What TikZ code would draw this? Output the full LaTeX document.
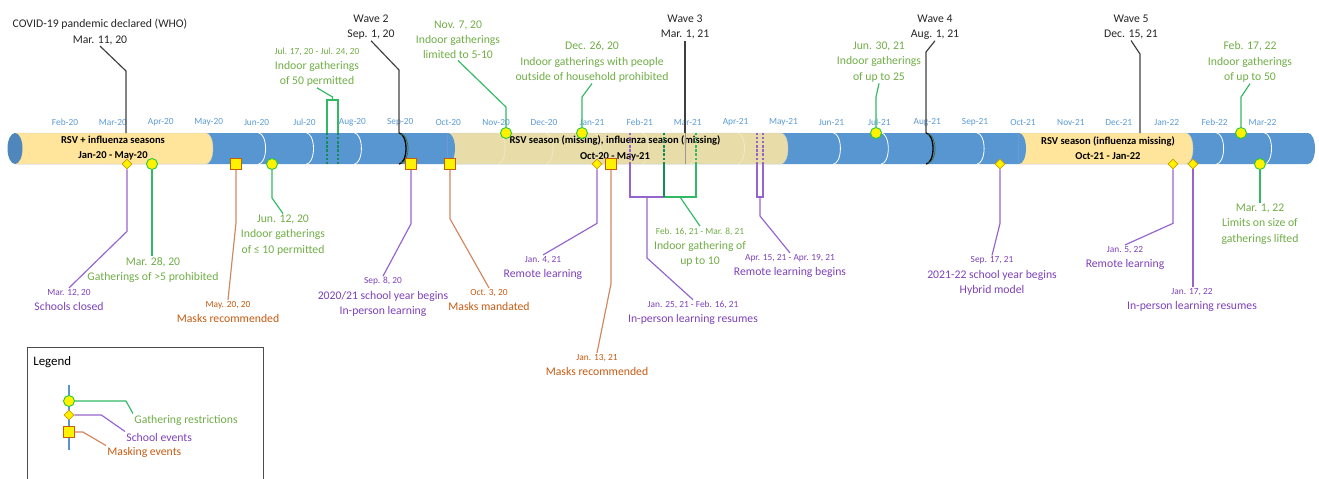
\documentclass[tikz,border=0pt]{standalone}
\usepackage{fontspec}
\setmainfont{Carlito}
\usepackage{tikz}
\usetikzlibrary{positioning, shapes.geometric, calc}

\definecolor{tubeblue}{RGB}{88,150,210}
\definecolor{monthblue}{RGB}{91,155,213}
\definecolor{seasonyel}{RGB}{255,228,155}
\definecolor{seasonbeige}{RGB}{232,220,168}
\definecolor{gathline}{RGB}{50,185,100}
\definecolor{gathdark}{RGB}{20,140,90}
\definecolor{gathtext}{RGB}{112,173,71}
\definecolor{gathmark}{RGB}{40,200,60}
\definecolor{schoolline}{RGB}{150,100,205}
\definecolor{schooltext}{RGB}{125,65,185}
\definecolor{schoolmark}{RGB}{200,160,0}
\definecolor{maskline}{RGB}{210,135,95}
\definecolor{masktext}{RGB}{197,90,17}
\definecolor{maskmark}{RGB}{197,90,17}
\definecolor{wavegreen}{RGB}{60,110,50}

\begin{document}
\begin{tikzpicture}[
		x=0.03cm, y=-0.03cm,
		month/.style={text=monthblue, font=\fontsize{8}{10}\selectfont, inner sep=1pt},
		gtxt/.style={text=gathtext, align=center, font=\fontsize{10}{13}\selectfont, inner sep=1pt},
		stxt/.style={text=schooltext, align=center, font=\fontsize{10}{13}\selectfont, inner sep=1pt},
		mtxt/.style={text=masktext, align=center, font=\fontsize{10}{13}\selectfont, inner sep=1pt},
		wtxt/.style={text=black!85, align=center, font=\fontsize{10}{13}\selectfont, inner sep=1pt},
		season/.style={align=center, font=\fontsize{9}{13}\selectfont\bfseries, inner sep=1pt},
		gmark/.style={circle, draw=gathmark, line width=0.8pt, fill=yellow, inner sep=0pt, minimum size=0.33cm},
		smark/.style={diamond, draw=schoolmark, line width=0.6pt, fill=yellow, inner sep=0pt, minimum size=0.3cm},
		mmark/.style={rectangle, draw=maskmark, line width=0.8pt, fill=yellow, inner sep=0pt, minimum size=0.32cm},
		gcon/.style={draw=gathline, line width=1pt},
		scon/.style={draw=schoolline, line width=1pt},
		mcon/.style={draw=maskline, line width=1pt},
		wcon/.style={draw=black!75, line width=1pt},
		inside/.style={dash pattern=on 2pt off 1.5pt},
		rim/.style={white, line width=0.7pt},
		bulge/.style={start angle=-90, end angle=90, x radius=7, y radius=15.5}
		]

		\useasboundingbox (0,0) rectangle (1319,479);

		\fill[tubeblue] (15,133) -- (1308,133) arc[bulge] -- (15,164) -- cycle;
		\filldraw[fill=seasonyel, draw=black!20, line width=0.4pt] (15,133) -- (206,133) arc[bulge] -- (15,164) -- cycle;
		\filldraw[fill=seasonbeige, draw=black!20, line width=0.4pt] (448,133) -- (781,133) arc[bulge] -- (448,164) -- cycle;
		\filldraw[fill=seasonyel, draw=black!20, line width=0.4pt] (1019,133) -- (1186,133) arc[bulge] -- (1019,164) -- cycle;
		\fill[tubeblue] (448,133) arc[bulge] -- cycle;
		\fill[tubeblue] (1019,133) arc[bulge] -- cycle;
		\fill[tubeblue!90!black] (15,148.5) ellipse[x radius=7.5, y radius=15.5];

		\foreach \k in {4,5,6,16,17,19,24,25}
			\draw[rim] ({67+47.9*\k},133) arc[bulge];
		\foreach \k in {9,...,14}
			\draw[rim, opacity=0.35] ({67+47.9*\k},133) arc[bulge];

		\foreach \mname [count=\k from 0] in {Feb-20,Mar-20,Apr-20,May-20,Jun-20,Jul-20,Aug-20,Sep-20,Oct-20,Nov-20,Dec-20,Jan-21,Feb-21,Mar-21,Apr-21,May-21,Jun-21,Jul-21,Aug-21,Sep-21,Oct-21,Nov-21,Dec-21,Jan-22,Feb-22,Mar-22}
			\node[month] (mo\k) at ({65+47.9*\k},122) {\mname};

		\node[season] (sea-1) at (113,148.5) {RSV + influenza seasons\\Jan-20 - May-20};
		\node[season] (sea-2) at (615,148.5) {RSV season (missing), influenza season (missing)\\Oct-20 - May-21};
		\node[season] (sea-3) at (1108,148.5) {RSV season (influenza missing)\\Oct-21 - Jan-22};

		\coordinate (w-covid) at (126,133);
		\coordinate (w-2) at (399,133);
		\coordinate (w-3) at (685,133);
		\coordinate (w-4) at (926,133);
		\coordinate (w-5) at (1140,133);
		\coordinate (upbar) at (0,100);
		\coordinate (lowbar) at (0,197);
		\coordinate (g-jul17) at (327,133);
		\coordinate (g-jul24) at (338,133);
		\coordinate (s-jan25) at (630,164);
		\coordinate (g-feb16) at (664,164);
		\coordinate (g-mar8) at (696,164);
		\coordinate (s-apr15) at (757,164);
		\coordinate (s-apr19) at (763,164);

		\draw[black, line width=1.1pt] (w-2) arc[bulge];
		\draw[wavegreen, line width=0.6pt] ($(w-2)+(2,1)$) arc[start angle=-90, end angle=90, x radius=7, y radius=14.5];
		\draw[black, line width=1.1pt] (w-4) arc[bulge];
		\draw[wavegreen, line width=0.6pt] ($(w-4)+(2,1)$) arc[start angle=-90, end angle=90, x radius=7, y radius=14.5];
		\draw[black!40, line width=0.6pt] (w-3) -- ++(0,31);

		\node[wtxt] (l-covid) at (100,32) {COVID-19 pandemic declared (WHO)\\Mar. 11, 20};
		\node[wtxt] (l-w2) at (371,27) {Wave 2\\Sep. 1, 20};
		\node[wtxt] (l-w3) at (685,27) {Wave 3\\Mar. 1, 21};
		\node[wtxt] (l-w4) at (935,27) {Wave 4\\Aug. 1, 21};
		\node[wtxt] (l-w5) at (1131,27) {Wave 5\\Dec. 15, 21};

		\node[gtxt] (l-jul) at (317,67) {{\footnotesize Jul. 17, 20 - Jul. 24, 20}\\Indoor gatherings\\of 50 permitted};
		\node[gtxt] (l-nov7) at (458,40) {Nov. 7, 20\\Indoor gatherings\\limited to 5-10};
		\node[gtxt] (l-dec26) at (592,62) {Dec. 26, 20\\Indoor gatherings with people\\outside of household prohibited};
		\node[gtxt] (l-jun30) at (879,62) {Jun. 30, 21\\Indoor gatherings\\of up to 25};
		\node[gtxt] (l-feb17) at (1250,62) {Feb. 17, 22\\Indoor gatherings\\of up to 50};
		\node[gtxt] (l-mar28) at (153,270) {Mar. 28, 20\\Gatherings of >5 prohibited};
		\node[gtxt] (l-jun12) at (283,235) {Jun. 12, 20\\Indoor gatherings\\of ≤ 10 permitted};
		\node[gtxt] (l-feb16) at (700,247) {{\footnotesize Feb. 16, 21 - Mar. 8, 21}\\Indoor gathering of\\up to 10};
		\node[gtxt] (l-mar1) at (1260,224) {Mar. 1, 22\\Limits on size of\\gatherings lifted};

		\node[stxt] (l-mar12) at (69,300) {{\footnotesize Mar. 12, 20}\\Schools closed};
		\node[stxt] (l-sep8) at (383,297) {{\footnotesize Sep. 8, 20}\\2020/21 school year begins\\In-person learning};
		\node[stxt] (l-jan4) at (543,268) {{\footnotesize Jan. 4, 21}\\Remote learning};
		\node[stxt] (l-jan25) at (693,313) {{\footnotesize Jan. 25, 21 - Feb. 16, 21}\\In-person learning resumes};
		\node[stxt] (l-apr15) at (790,266) {{\footnotesize Apr. 15, 21 - Apr. 19, 21}\\Remote learning begins};
		\node[stxt] (l-sep17) at (992,276) {{\footnotesize Sep. 17, 21}\\2021-22 school year begins\\Hybrid model};
		\node[stxt] (l-jan5) at (1125,258) {{\footnotesize Jan. 5, 22}\\Remote learning};
		\node[stxt] (l-jan17) at (1192,300) {{\footnotesize Jan. 17, 22}\\In-person learning resumes};

		\node[mtxt] (l-may20) at (228,312) {{\footnotesize May. 20, 20}\\Masks recommended};
		\node[mtxt] (l-oct3) at (489,300) {{\footnotesize Oct. 3, 20}\\Masks mandated};
		\node[mtxt] (l-jan13) at (597,365) {{\footnotesize Jan. 13, 21}\\Masks recommended};

		\draw[wcon] (w-covid) -- ++(0,-62) -- (l-covid.south);
		\draw[wcon] (w-2) -- ++(0,-63) -- (l-w2.south);
		\draw[wcon] (w-3) -- (w-3 |- l-w3.south);
		\draw[wcon] (w-4) -- ++(0,-81) -- (l-w4.south);
		\draw[wcon] (w-5) -- ++(0,-79) -- (l-w5.south);

		\draw[gcon, inside, draw=gathdark] (g-jul17) -- ++(0,31);
		\draw[gcon, inside, draw=gathdark] (g-jul24) -- ++(0,31);
		\draw[gcon] (g-jul17) -- (g-jul17 |- upbar) -- (g-jul24 |- upbar) -- (g-jul24);
		\draw[gcon] ($(g-jul17 |- upbar)!0.5!(g-jul24 |- upbar)$) -- ++(0,-3) -- (l-jul.south);

		\draw[scon, inside] (s-jan25) -- ++(0,-31);
		\draw[gcon, inside, draw=gathdark] (g-feb16) -- ++(0,-31);
		\draw[gcon, inside] (g-mar8) -- ++(0,-31);
		\draw[scon] (s-jan25) -- (s-jan25 |- lowbar) -- (g-feb16 |- lowbar);
		\draw[gcon] (g-feb16 |- lowbar) -- (g-mar8 |- lowbar) -- (g-mar8);
		\draw[gcon, draw=gathdark] (g-feb16) -- (g-feb16 |- lowbar);
		\draw[scon] ($(s-jan25 |- lowbar)!0.5!(g-feb16 |- lowbar)$) -- ++(0,61) -- (l-jan25.north);
		\draw[gcon] ($(g-feb16 |- lowbar)!0.5!(g-mar8 |- lowbar)$) -- (l-feb16.north);

		\draw[scon, inside] (s-apr15) -- ++(0,-31);
		\draw[scon, inside] (s-apr19) -- ++(0,-31);
		\draw[scon] (s-apr15) -- (s-apr15 |- lowbar) -- (s-apr19 |- lowbar) -- (s-apr19);
		\draw[scon] ($(s-apr15 |- lowbar)!0.5!(s-apr19 |- lowbar)$) -- ++(0,19) -- (l-apr15.north);

		\node[smark] (s-mar12) at (127,164) {};
		\node[gmark] (g-mar28) at (152,164) {};
		\node[mmark] (m-may20) at (236,164) {};
		\node[gmark] (g-jun12) at (272,164) {};
		\node[mmark] (s-sep8) at (411,164) {};
		\node[mmark] (m-oct3) at (450,164) {};
		\node[gmark] (g-nov7) at (506,133) {};
		\node[gmark] (g-dec26) at (582,133) {};
		\node[smark] (s-jan4) at (597,164) {};
		\node[mmark] (m-jan13) at (611,164) {};
		\node[gmark] (g-jun30) at (876,133) {};
		\node[smark] (s-sep17) at (1000,164) {};
		\node[smark] (s-jan5) at (1173,164) {};
		\node[smark] (s-jan17) at (1193,164) {};
		\node[gmark] (g-feb17) at (1241,133) {};
		\node[gmark] (g-mar1) at (1260,164) {};

		\draw[scon] (s-mar12.south) -- ++(0,62) -- (l-mar12.north);
		\draw[gcon] (g-mar28.south) -- (g-mar28.south |- l-mar28.north);
		\draw[mcon] (m-may20.south) -- ++(0,53) -- (l-may20.north);
		\draw[gcon] (g-jun12.south) -- ++(0,28) -- (l-jun12.north);
		\draw[scon] (s-sep8.south) -- ++(0,54) -- (l-sep8.north);
		\draw[mcon] (m-oct3.south) -- ++(0,49) -- (l-oct3.north);
		\draw[gcon] (g-nov7.north) -- ++(0,-20) -- (l-nov7.south);
		\draw[gcon] (g-dec26.north) -- ++(0,-30) -- (l-dec26.south);
		\draw[scon] (s-jan4.south) -- ++(0,54) -- (l-jan4.north);
		\draw[mcon] (m-jan13.south) -- ++(0,114) -- (l-jan13.north);
		\draw[gcon] (g-jun30.north) -- ++(0,-30) -- (l-jun30.south);
		\draw[scon] (s-sep17.south) -- ++(0,54) -- (l-sep17.north);
		\draw[scon] (s-jan5.south) -- ++(0,54) -- (l-jan5.north);
		\draw[scon] (s-jan17.south) -- (s-jan17.south |- l-jan17.north);
		\draw[gcon] (g-feb17.north) -- ++(0,-30) -- (l-feb17.south);
		\draw[gcon] (g-mar1.south) -- (g-mar1.south |- l-mar1.north);

		\draw[black!70, line width=0.8pt] (27,479) |- (263,347) -- (263,479);
		\node[anchor=west, font=\fontsize{11}{13}\selectfont, inner sep=1pt] (leg-title) at (32,362) {Legend};
		\coordinate (leg-top) at (69,385);
		\coordinate (leg-bot) at (69,450);
		\draw[tubeblue, line width=1pt] (leg-top) -- (leg-bot);
		\node[gmark] (leg-g) at (69,401) {};
		\node[smark] (leg-s) at (69,415) {};
		\node[mmark] (leg-m) at (69,432) {};
		\node[gtxt, anchor=west] (leg-gt) at (133,420) {Gathering restrictions};
		\node[stxt, anchor=west] (leg-st) at (125,437) {School events};
		\node[mtxt, anchor=west] (leg-mt) at (106,452) {Masking events};
		\draw[gcon] (leg-g.east) -- ++(51,0) -- (leg-gt.north west);
		\draw[scon] (leg-s.east) -- ++(27,0) -- (leg-st.north west);
		\draw[mcon] (leg-m.east) -- ++(8,0) -- (leg-mt.north west);
	\end{tikzpicture}
\end{document}
